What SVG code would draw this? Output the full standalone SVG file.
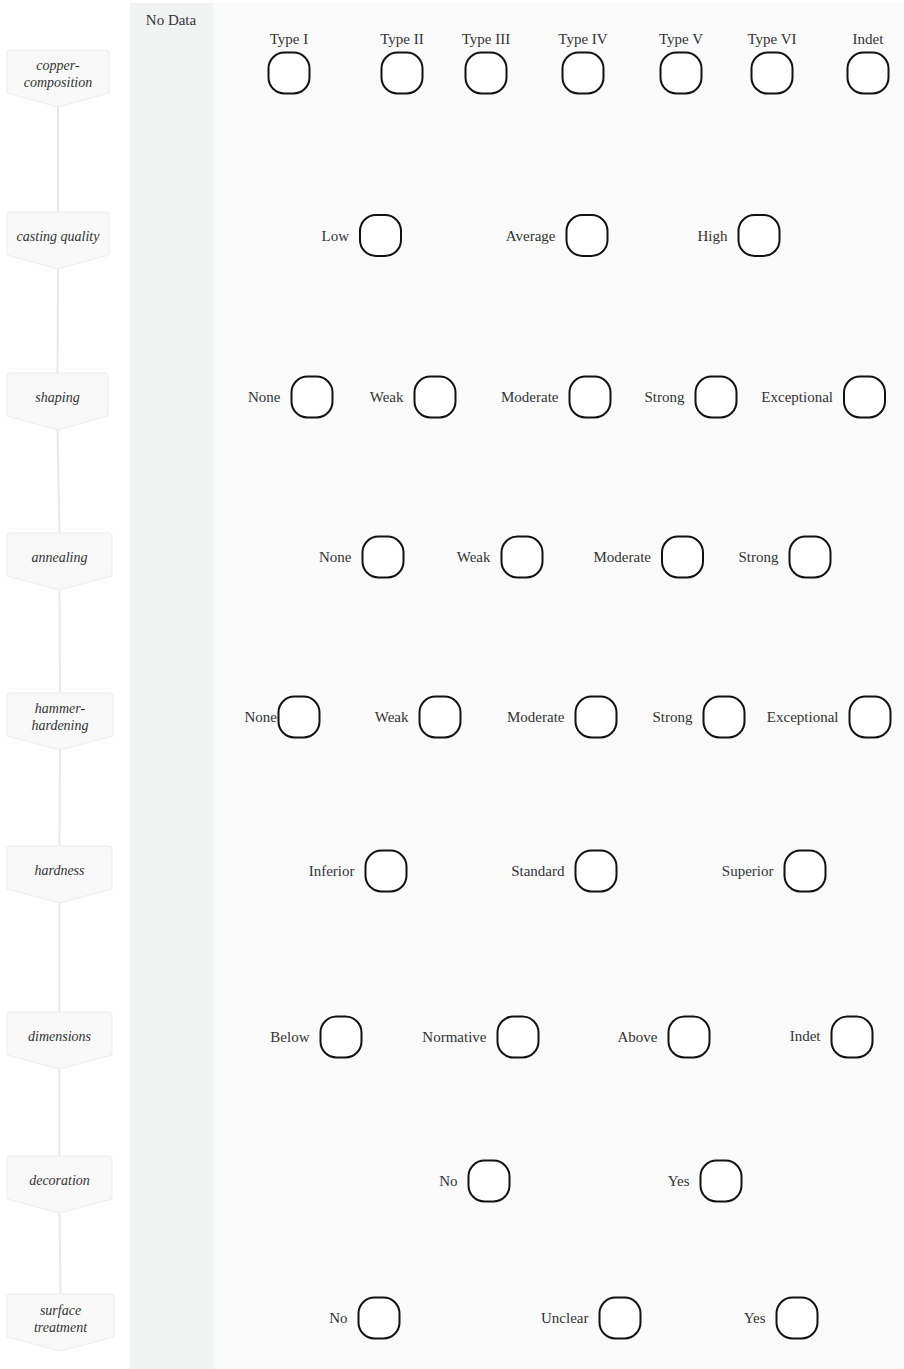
<svg xmlns="http://www.w3.org/2000/svg" width="904" height="1369" viewBox="0 0 904 1369">
<style>
.lbl{fill:#f8f8f8;stroke:#ececec;stroke-width:1}
.lt{font-family:"Liberation Serif",serif;font-style:italic;font-size:14px;fill:#333;text-anchor:middle}
.n{fill:#fff;stroke:#111;stroke-width:2}
.t{font-family:"Liberation Serif",serif;font-size:15px;fill:#333;text-anchor:end}
.tc{font-family:"Liberation Serif",serif;font-size:15px;fill:#333;text-anchor:middle}
.c{stroke:#e8e8e8;stroke-width:2;fill:none}
</style>
<rect x="0" y="0" width="904" height="1369" fill="#fff"/>
<rect x="130" y="3" width="83" height="1366" fill="#f1f3f3"/>
<rect x="213" y="3" width="691" height="1366" fill="#fafafa"/>
<text class="tc" x="171" y="25">No Data</text>
<g id="connectors">
<line class="c" x1="58" y1="107" x2="58" y2="212"/>
<line class="c" x1="58" y1="269" x2="57.5" y2="373"/>
<line class="c" x1="57.5" y1="430" x2="59.5" y2="533"/>
<line class="c" x1="59.5" y1="590" x2="60" y2="693"/>
<line class="c" x1="60" y1="750" x2="59.5" y2="846"/>
<line class="c" x1="59.5" y1="903" x2="59.5" y2="1012"/>
<line class="c" x1="59.5" y1="1069" x2="59.5" y2="1156"/>
<line class="c" x1="59.5" y1="1213" x2="60.5" y2="1294"/>
</g>
<g id="label-copper"><path class="lbl" d="M10,50 H106 Q109,50 109,53 V93 L58,107 L7,93 V53 Q7,50 10,50 Z"/><text class="lt" x="58" y="70">copper-</text><text class="lt" x="58" y="87">composition</text></g>
<g id="label-casting"><path class="lbl" d="M10,212 H106 Q109,212 109,215 V255 L58,269 L7,255 V215 Q7,212 10,212 Z"/><text class="lt" x="58" y="241">casting quality</text></g>
<g id="label-shaping"><path class="lbl" d="M10,373 H105 Q108,373 108,376 V416 L57.5,430 L7,416 V376 Q7,373 10,373 Z"/><text class="lt" x="57.5" y="402">shaping</text></g>
<g id="label-annealing"><path class="lbl" d="M10,533 H109 Q112,533 112,536 V576 L59.5,590 L7,576 V536 Q7,533 10,533 Z"/><text class="lt" x="59.5" y="562">annealing</text></g>
<g id="label-hammer"><path class="lbl" d="M10,693 H110 Q113,693 113,696 V736 L60,750 L7,736 V696 Q7,693 10,693 Z"/><text class="lt" x="60" y="713">hammer-</text><text class="lt" x="60" y="730">hardening</text></g>
<g id="label-hardness"><path class="lbl" d="M10,846 H109 Q112,846 112,849 V889 L59.5,903 L7,889 V849 Q7,846 10,846 Z"/><text class="lt" x="59.5" y="875">hardness</text></g>
<g id="label-dimensions"><path class="lbl" d="M10,1012 H109 Q112,1012 112,1015 V1055 L59.5,1069 L7,1055 V1015 Q7,1012 10,1012 Z"/><text class="lt" x="59.5" y="1041">dimensions</text></g>
<g id="label-decoration"><path class="lbl" d="M10,1156 H109 Q112,1156 112,1159 V1199 L59.5,1213 L7,1199 V1159 Q7,1156 10,1156 Z"/><text class="lt" x="59.5" y="1185">decoration</text></g>
<g id="label-surface"><path class="lbl" d="M10,1294 H111 Q114,1294 114,1297 V1337 L60.5,1351 L7,1337 V1297 Q7,1294 10,1294 Z"/><text class="lt" x="60.5" y="1315">surface</text><text class="lt" x="60.5" y="1332">treatment</text></g>

<g id="copper-type1"><text class="tc" x="289" y="44">Type I</text><rect class="n" x="268.5" y="52.5" width="41" height="41" rx="16"/></g>
<g id="copper-type2"><text class="tc" x="402" y="44">Type II</text><rect class="n" x="381.5" y="52.5" width="41" height="41" rx="16"/></g>
<g id="copper-type3"><text class="tc" x="486" y="44">Type III</text><rect class="n" x="465.5" y="52.5" width="41" height="41" rx="16"/></g>
<g id="copper-type4"><text class="tc" x="583" y="44">Type IV</text><rect class="n" x="562.5" y="52.5" width="41" height="41" rx="16"/></g>
<g id="copper-type5"><text class="tc" x="681" y="44">Type V</text><rect class="n" x="660.5" y="52.5" width="41" height="41" rx="16"/></g>
<g id="copper-type6"><text class="tc" x="772" y="44">Type VI</text><rect class="n" x="751.5" y="52.5" width="41" height="41" rx="16"/></g>
<g id="copper-indet"><text class="tc" x="868" y="44">Indet</text><rect class="n" x="847.5" y="52.5" width="41" height="41" rx="16"/></g>

<g id="casting-low"><text class="t" x="349" y="241">Low</text><rect class="n" x="360" y="215" width="41" height="41" rx="16"/></g>
<g id="casting-average"><text class="t" x="555.5" y="241">Average</text><rect class="n" x="566.5" y="215" width="41" height="41" rx="16"/></g>
<g id="casting-high"><text class="t" x="727.5" y="241">High</text><rect class="n" x="738.5" y="215" width="41" height="41" rx="16"/></g>

<g id="shaping-none"><text class="t" x="280.5" y="402">None</text><rect class="n" x="291.5" y="376.5" width="41" height="41" rx="16"/></g>
<g id="shaping-weak"><text class="t" x="403.5" y="402">Weak</text><rect class="n" x="414.5" y="376.5" width="41" height="41" rx="16"/></g>
<g id="shaping-moderate"><text class="t" x="558.5" y="402">Moderate</text><rect class="n" x="569.5" y="376.5" width="41" height="41" rx="16"/></g>
<g id="shaping-strong"><text class="t" x="684.5" y="402">Strong</text><rect class="n" x="695.5" y="376.5" width="41" height="41" rx="16"/></g>
<g id="shaping-exceptional"><text class="t" x="833" y="402">Exceptional</text><rect class="n" x="844" y="376.5" width="41" height="41" rx="16"/></g>

<g id="annealing-none"><text class="t" x="351.5" y="562">None</text><rect class="n" x="362.5" y="536.5" width="41" height="41" rx="16"/></g>
<g id="annealing-weak"><text class="t" x="490.5" y="562">Weak</text><rect class="n" x="501.5" y="536.5" width="41" height="41" rx="16"/></g>
<g id="annealing-moderate"><text class="t" x="651" y="562">Moderate</text><rect class="n" x="662" y="536.5" width="41" height="41" rx="16"/></g>
<g id="annealing-strong"><text class="t" x="778.5" y="562">Strong</text><rect class="n" x="789.5" y="536.5" width="41" height="41" rx="16"/></g>

<g id="hammer-none"><text class="t" x="277" y="722">None</text><rect class="n" x="278.5" y="696.5" width="41" height="41" rx="16"/></g>
<g id="hammer-weak"><text class="t" x="408.5" y="722">Weak</text><rect class="n" x="419.5" y="696.5" width="41" height="41" rx="16"/></g>
<g id="hammer-moderate"><text class="t" x="564.5" y="722">Moderate</text><rect class="n" x="575.5" y="696.5" width="41" height="41" rx="16"/></g>
<g id="hammer-strong"><text class="t" x="692.5" y="722">Strong</text><rect class="n" x="703.5" y="696.5" width="41" height="41" rx="16"/></g>
<g id="hammer-exceptional"><text class="t" x="838.5" y="722">Exceptional</text><rect class="n" x="849.5" y="696.5" width="41" height="41" rx="16"/></g>

<g id="hardness-inferior"><text class="t" x="354.5" y="876">Inferior</text><rect class="n" x="365.5" y="850.5" width="41" height="41" rx="16"/></g>
<g id="hardness-standard"><text class="t" x="564.5" y="876">Standard</text><rect class="n" x="575.5" y="850.5" width="41" height="41" rx="16"/></g>
<g id="hardness-superior"><text class="t" x="773.5" y="876">Superior</text><rect class="n" x="784.5" y="850.5" width="41" height="41" rx="16"/></g>

<g id="dimensions-below"><text class="t" x="309.5" y="1042">Below</text><rect class="n" x="320.5" y="1016.5" width="41" height="41" rx="16"/></g>
<g id="dimensions-normative"><text class="t" x="486.5" y="1042">Normative</text><rect class="n" x="497.5" y="1016.5" width="41" height="41" rx="16"/></g>
<g id="dimensions-above"><text class="t" x="657.5" y="1042">Above</text><rect class="n" x="668.5" y="1016.5" width="41" height="41" rx="16"/></g>
<g id="dimensions-indet"><text class="t" x="820.5" y="1041">Indet</text><rect class="n" x="831.5" y="1016.5" width="41" height="41" rx="16"/></g>

<g id="decoration-no"><text class="t" x="457.5" y="1186">No</text><rect class="n" x="468.5" y="1160.5" width="41" height="41" rx="16"/></g>
<g id="decoration-yes"><text class="t" x="689.5" y="1186">Yes</text><rect class="n" x="700.5" y="1160.5" width="41" height="41" rx="16"/></g>

<g id="surface-no"><text class="t" x="347.5" y="1323">No</text><rect class="n" x="358.5" y="1297.5" width="41" height="41" rx="16"/></g>
<g id="surface-unclear"><text class="t" x="588.5" y="1323">Unclear</text><rect class="n" x="599.5" y="1297.5" width="41" height="41" rx="16"/></g>
<g id="surface-yes"><text class="t" x="765.5" y="1323">Yes</text><rect class="n" x="776.5" y="1297.5" width="41" height="41" rx="16"/></g>
</svg>
